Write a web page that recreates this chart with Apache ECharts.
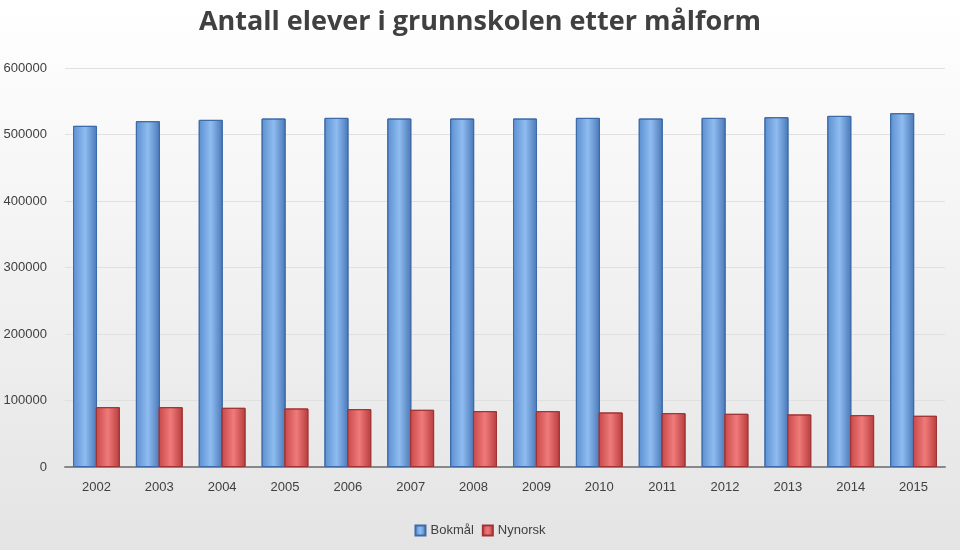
<!DOCTYPE html>
<html>
<head>
<meta charset="utf-8">
<script src="https://cdn.jsdelivr.net/npm/echarts@6/dist/echarts.min.js"></script>
<style>
  html, body { margin: 0; padding: 0; }
  #chart { width: 960px; height: 550px; background: linear-gradient(#ffffff, #e4e4e4); }
</style>
</head>
<body>
<div id="chart"></div>
<script>
const years = ['2002', '2003', '2004', '2005', '2006', '2007', '2008', '2009', '2010', '2011', '2012', '2013', '2014', '2015']
const bokmal = [513000, 520000, 522000, 524000, 525000, 524000, 524000, 524000, 525000, 524000, 525000, 526000, 528000, 532000]
const nynorsk = [90000, 90000, 89000, 88000, 87000, 86000, 84000, 84000, 82000, 81000, 80000, 79000, 78000, 77000]

let chart = echarts.init(document.getElementById('chart'))
let option = {
  title: {
    text: 'Antall elever i grunnskolen etter målform',
    left: 'center',
    top: 4,
    textStyle: { fontSize: 27, fontWeight: 'bold', color: '#404040', fontFamily: 'Open Sans' }
  },
  legend: {
    bottom: 8,
    icon: 'rect',
    itemWidth: 10,
    itemHeight: 10,
    textStyle: { fontSize: 13, color: '#404040', fontFamily: 'Liberation Sans' },
    data: ['Bokmål', 'Nynorsk']
  },
  grid: { left: 65, right: 15, top: 68, bottom: 83 },
  xAxis: {
    type: 'category',
    data: years,
    axisTick: { show: false },
    axisLine: { lineStyle: { color: '#888', width: 2 } },
    axisLabel: { color: '#404040', fontSize: 13, fontFamily: 'Liberation Sans', margin: 14 }
  },
  yAxis: {
    type: 'value',
    min: 0,
    max: 600000,
    interval: 100000,
    axisLabel: { color: '#404040', fontSize: 13, fontFamily: 'Liberation Sans', margin: 18, formatter: v => String(v) },
    splitLine: { lineStyle: { color: '#e0e0e0' } }
  },
  series: [
    {
      name: 'Bokmål',
      type: 'bar',
      data: bokmal,
      barWidth: 24,
      barGap: '-5%',
      itemStyle: {
        color: new echarts.graphic.LinearGradient(0, 0, 1, 0, [
          { offset: 0, color: '#5b8fd0' },
          { offset: 0.5, color: '#8fbcf0' },
          { offset: 1, color: '#4a78b8' }
        ]),
        borderColor: '#3d6aa8',
        borderWidth: 1
      }
    },
    {
      name: 'Nynorsk',
      type: 'bar',
      data: nynorsk,
      barWidth: 24,
      itemStyle: {
        color: new echarts.graphic.LinearGradient(0, 0, 1, 0, [
          { offset: 0, color: '#c84848' },
          { offset: 0.5, color: '#f07a7a' },
          { offset: 1, color: '#b83c3c' }
        ]),
        borderColor: '#a03434',
        borderWidth: 1
      }
    }
  ]
}
chart.setOption(option)
</script>
</body>
</html>
